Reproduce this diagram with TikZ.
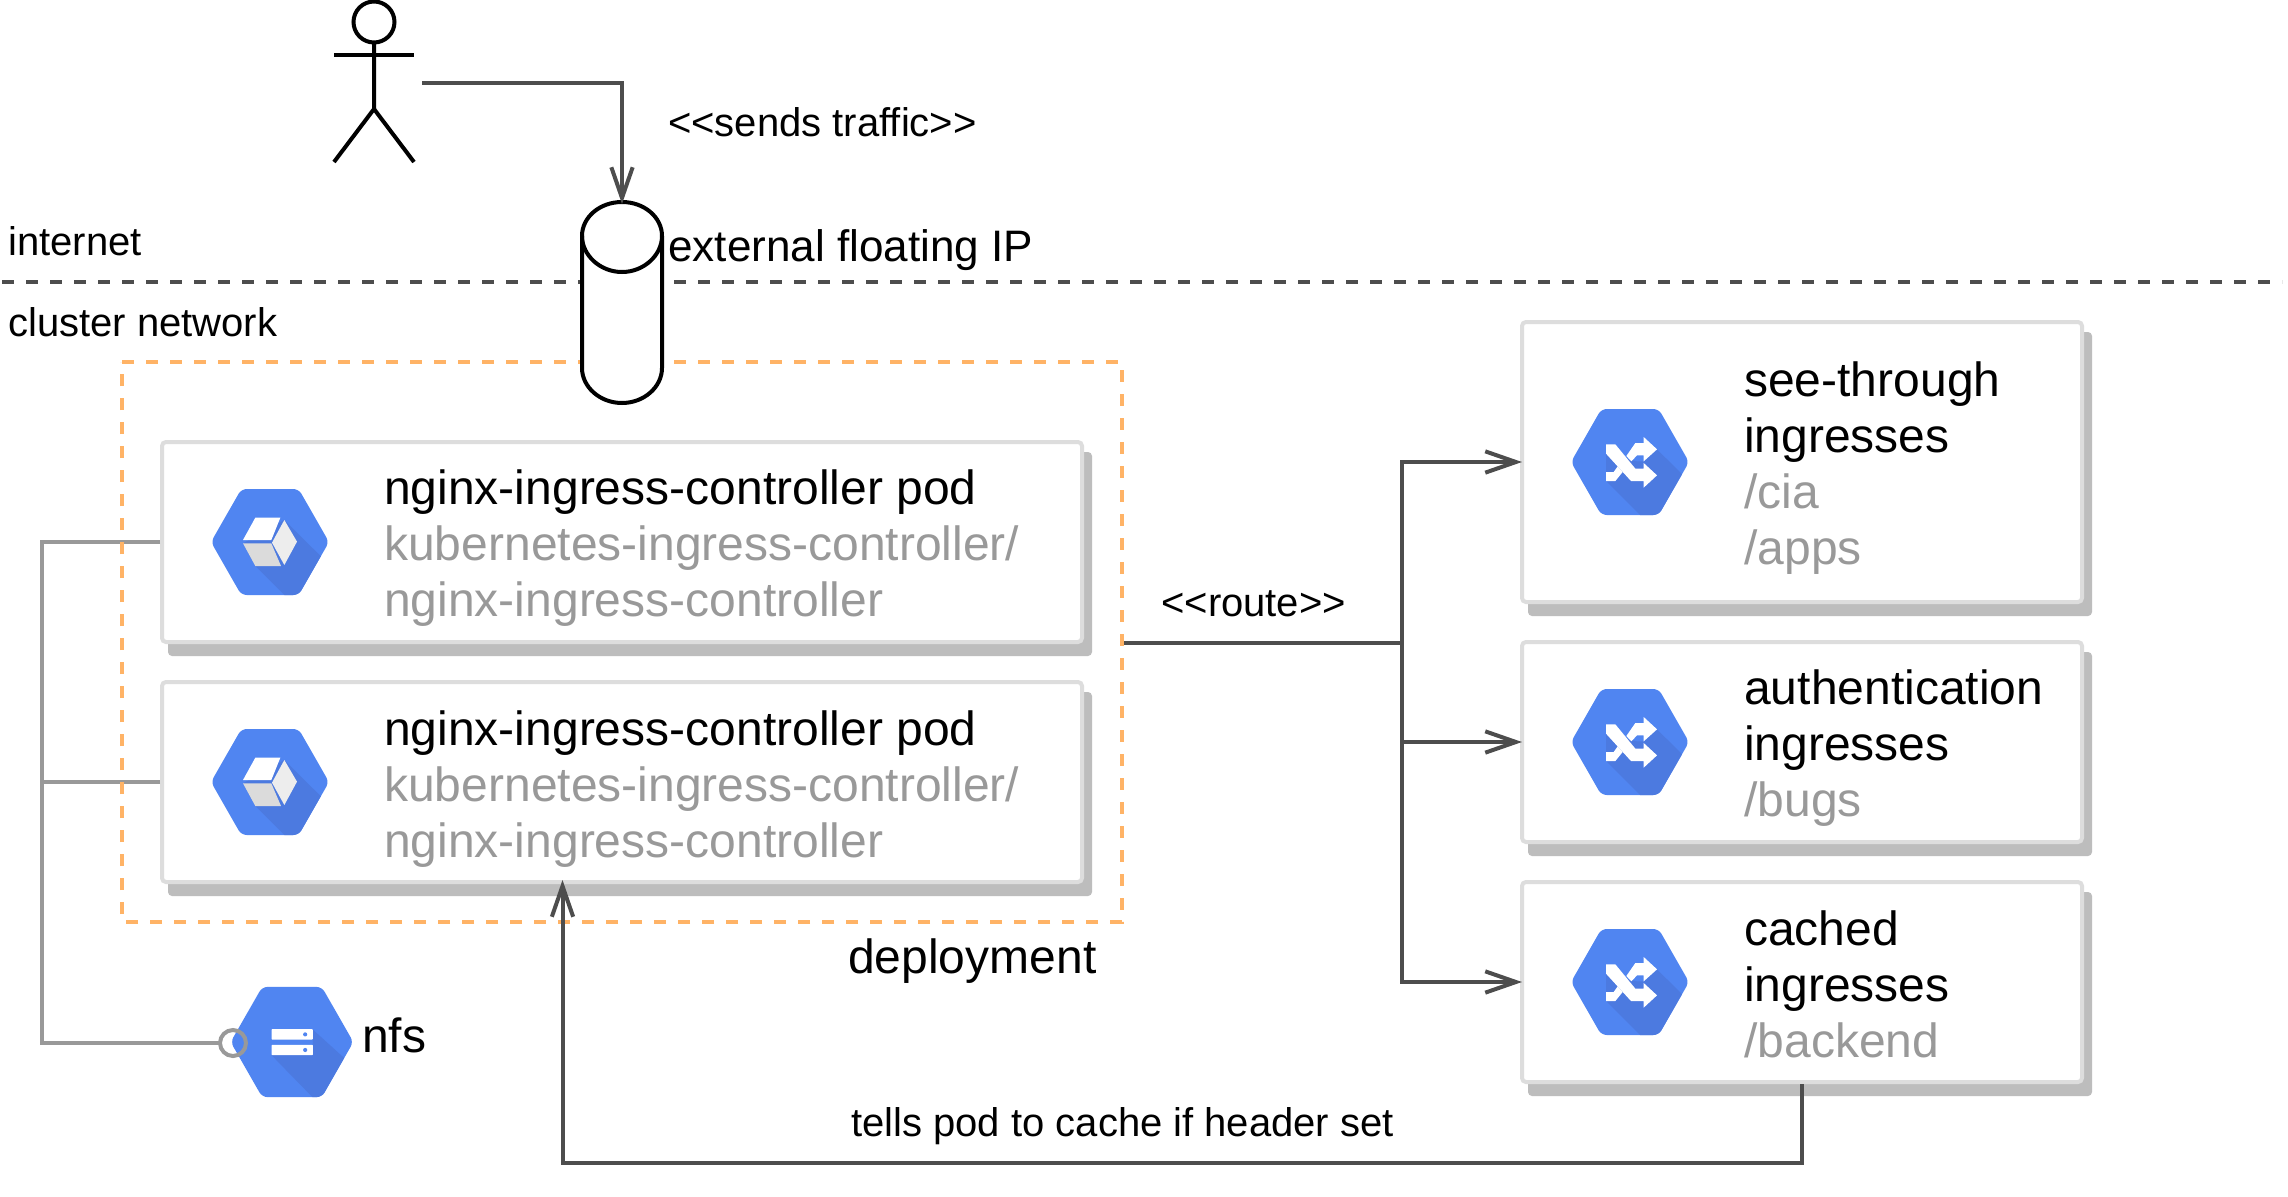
\documentclass[tikz,border=0pt]{standalone}
\usepackage{fontspec}
\setmainfont{Liberation Sans}
\usetikzlibrary{arrows.meta}
\definecolor{hexblue}{HTML}{5085F1}
\definecolor{hexdark}{HTML}{4C7AE0}
\definecolor{darkline}{HTML}{4D4D4D}
\definecolor{grayline}{HTML}{999999}
\definecolor{cardline}{HTML}{DDDDDD}
\definecolor{cardshadow}{HTML}{BDBDBD}
\definecolor{orangedash}{HTML}{FFB366}
\newcommand{\firstline}{\rule{0pt}{32pt}}
\newcommand{\hexpath}{(-177,0) -- (-86,-159) -- (86,-159) -- (177,0) -- (86,159) -- (-86,159) -- cycle}
\newcommand{\hexicon}[4]{% cx, cy, scale, content
  \begin{scope}[shift={(#1,#2)}]
    \begin{scope}[x=#3*0.25pt,y=-#3*0.25pt]
      \begin{scope}
        \clip[rounded corners=4pt] \hexpath;
        \fill[hexblue] (-200,-200) rectangle (200,200);
        #4
      \end{scope}
    \end{scope}
  \end{scope}}
\newcommand{\cubeicon}{%
  \fill[hexdark] (-81,4) -- (-44,72) -- (43,159) -- (120,200) -- (210,100) -- (43,-66) -- cycle;
  \fill[white] (-44,-73) -- (31,-73) -- (4,-6) -- (-81,-6) -- cycle;
  \fill[white!93!black] (43,-66) -- (81,-1) -- (43,69) -- (6,2) -- cycle;
  \fill[white!86!black] (-81,4) -- (4,4) -- (33,72) -- (-44,72) -- cycle;}
\newcommand{\shuffleicon}{%
  \fill[hexdark] (-72,-25) -- (-72,57) -- (30,159) -- (120,200) -- (210,90) -- (81,-38) -- (41,-2) -- (20,-2) -- cycle;
  \fill[white] (-72,-53) -- (-44,-53) -- (16,20) -- (41,20) -- (41,3) -- (81,40) -- (41,77) -- (41,57) -- (3,57) -- (-72,-25) -- cycle;
  \fill[white] (41,-75) -- (81,-38) -- (41,-2) -- (41,-20) -- (21,-20) -- (4,-2) -- (-11,-18) -- (16,-57) -- (41,-57) -- cycle;
  \fill[white] (-72,30) -- (-49,30) -- (-37,13) -- (-22,30) -- (-44,57) -- (-72,57) -- cycle;}
\newcommand{\servericon}{%
  \fill[hexdark] (-59,38) -- (58,158) -- (120,200) -- (210,100) -- (60,-36) -- (60,38) -- cycle;
  \fill[white,rounded corners=0.5pt] (-59,-37) rectangle (60,-7);
  \fill[white,rounded corners=0.5pt] (-59,8) rectangle (60,38);
  \fill[hexblue] (38,-22) circle[radius=6];
  \fill[hexblue] (38,23) circle[radius=6];}
\tikzset{
  x=0.75pt,y=-0.75pt,
  card/.style={draw=cardline,fill=white,line width=3pt,rounded corners=3pt,anchor=center,inner sep=0pt,outer sep=1.5pt},
  shadowrect/.style={fill=cardshadow,rounded corners=3pt},
  bigtext/.style={font=\fontsize{36}{42}\selectfont,anchor=north west,inner sep=0pt,align=left},
  midtext/.style={font=\fontsize{33.05}{40}\selectfont,anchor=base west,inner sep=0pt},
  smalltext/.style={font=\fontsize{30}{36}\selectfont,anchor=base west,inner sep=0pt},
  bigbase/.style={font=\fontsize{36}{42}\selectfont,anchor=base west,inner sep=0pt},
  darkarrow/.style={draw=darkline,line width=3pt,shorten >=-1.5pt,-{Straight Barb[length=23pt,width=16pt,line width=3pt]}},
  darkconn/.style={draw=darkline,line width=3pt},
  grayconn/.style={draw=grayline,line width=3pt},
  actorline/.style={draw=black,line width=3pt},
}
\begin{document}
\begin{tikzpicture}
\useasboundingbox (0,0) rectangle (2288,1196);
\fill[white] (0,0) rectangle (2288,1196);
% shadows
\fill[shadowrect] (168,452) rectangle (1092,656);
\fill[shadowrect] (168,692) rectangle (1092,896);
\fill[shadowrect] (1528,332) rectangle (2092,616);
\fill[shadowrect] (1528,652) rectangle (2092,856);
\fill[shadowrect] (1528,892) rectangle (2092,1096);
% cards
\node[card,minimum width=690pt,minimum height=150pt] (pod1) at (622,542) {};
\node[card,minimum width=690pt,minimum height=150pt] (pod2) at (622,782) {};
\node[card,minimum width=420pt,minimum height=210pt] (seethrough) at (1802,462) {};
\node[card,minimum width=420pt,minimum height=150pt] (auth) at (1802,742) {};
\node[card,minimum width=420pt,minimum height=150pt] (cached) at (1802,982) {};
% icons
\hexicon{270}{542}{1}{\cubeicon}
\hexicon{270}{782}{1}{\cubeicon}
\hexicon{1630}{462}{1}{\shuffleicon}
\hexicon{1630}{742}{1}{\shuffleicon}
\hexicon{1630}{982}{1}{\shuffleicon}
\hexicon{292}{1042}{1.04}{\servericon}
% nfs socket and gray connectors
\node[draw=grayline,line width=3pt,circle,minimum size=19.5pt,inner sep=0pt,outer sep=0pt] (socket) at (233,1043) {};
\coordinate (rail) at (42,1043);
\draw[grayconn] (pod1.west) -| (rail) -- (socket.west);
\draw[grayconn] (pod2.west) -- (rail |- pod2.west);
% boundaries
\coordinate (netL) at (2,282);
\coordinate (netR) at (2282,282);
\draw[darkline,line width=3pt,dash pattern=on 9pt off 9pt] (netL) -- (netR);
\draw[orangedash,line width=3pt,dash pattern=on 9pt off 9pt] (122,362) -- (1122,362) -- (1122,922) -- (122,922) -- cycle;
\fill[white] (582,240) rectangle (674,400);
% actor
\node[draw=black,line width=3pt,circle,minimum size=30.75pt,inner sep=0pt,outer sep=0pt] (head) at (374,22) {};
\coordinate (hip) at (374,109);
\coordinate (armL) at (334,55);
\coordinate (armR) at (414,55);
\coordinate (footL) at (334,162);
\coordinate (footR) at (414,162);
\draw[actorline] (head.south) -- (hip) -- (footL);
\draw[actorline] (hip) -- (footR);
\draw[actorline] (armL) -- (armR);
% cylinder
\draw[black,line width=3pt,fill=white]
  (582,236) .. controls (582,217) and (600,202) .. (622,202)
  .. controls (644,202) and (662,217) .. (662,236)
  -- (662,368) .. controls (662,387) and (644,403) .. (622,403)
  .. controls (600,403) and (582,387) .. (582,368) -- cycle;
\draw[black,line width=3pt]
  (582,236) .. controls (582,255) and (600,272) .. (622,272)
  .. controls (644,272) and (662,255) .. (662,236);
\coordinate (ipTop) at (622,202);
\coordinate (actorHand) at (422,83);
\draw[darkarrow] (actorHand) -| (ipTop);
% route
\coordinate (routeStart) at (1124,643);
\coordinate (hub) at (1402,643);
\draw[darkconn] (routeStart) -- (hub);
\draw[darkarrow] (hub) |- (seethrough.west);
\draw[darkarrow] (hub) |- (auth.west);
\draw[darkarrow] (hub) |- (cached.west);
% feedback
\coordinate (podEntry) at (562.5,882);
\coordinate (lowline) at (562.5,1163);
\draw[darkarrow] (cached.south) |- (lowline) -- (podEntry);
% text
\node[smalltext] (sends) at (668,136) {<{}<sends traffic>{}>};
\node[smalltext] (internet) at (8,255.5) {internet};
\node[midtext] (extip) at (668,261) {external floating IP};
\node[smalltext] (cluster) at (8,336) {cluster network};
\node[smalltext] (routelbl) at (1161,616) {<{}<route>{}>};
\node[bigbase] (deploy) at (848,973) {deployment};
\node[bigbase] (nfs) at (362,1052.5) {nfs};
\node[smalltext] (tells) at (851,1136) {tells pod to cache if header set};
\node[bigtext] (pod1text) at (384,462) {\firstline nginx-ingress-controller pod\\\textcolor{grayline}{kubernetes-ingress-controller/}\\\textcolor{grayline}{nginx-ingress-controller}};
\node[bigtext] (pod2text) at (384,703) {\firstline nginx-ingress-controller pod\\\textcolor{grayline}{kubernetes-ingress-controller/}\\\textcolor{grayline}{nginx-ingress-controller}};
\node[bigtext] (seetext) at (1744,354) {\firstline see-through\\ingresses\\\textcolor{grayline}{/cia}\\\textcolor{grayline}{/apps}};
\node[bigtext] (authtext) at (1744,662) {\firstline authentication\\ingresses\\\textcolor{grayline}{/bugs}};
\node[bigtext] (cachedtext) at (1744,903) {\firstline cached\\ingresses\\\textcolor{grayline}{/backend}};
\end{tikzpicture}
\end{document}
